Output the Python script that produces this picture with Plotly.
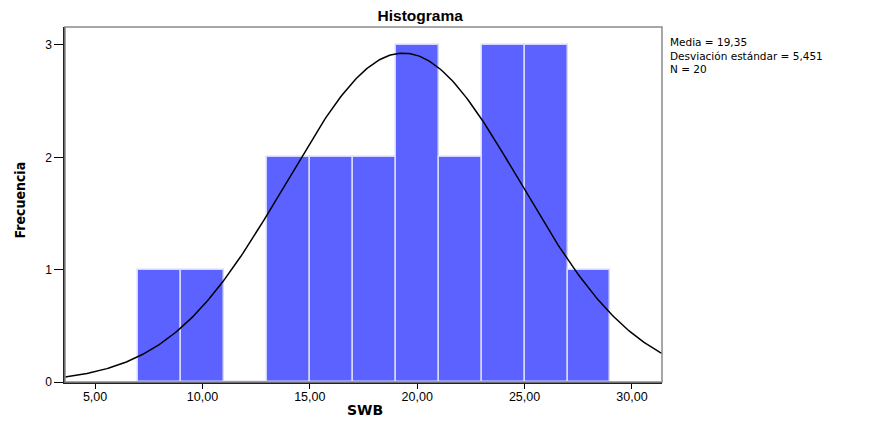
import numpy as np
import plotly.graph_objects as go

# histogram bins (centres) and counts
bin_centers = [8, 10, 12, 14, 16, 18, 20, 22, 24, 26, 28]
counts = [1, 1, 0, 2, 2, 2, 3, 2, 3, 3, 1]
bin_width = 2

# summary stats shown on the chart
mean = 19.35
std = 5.451
n = 20
stats_lines = ["Media = 19,35", "Desviación estándar = 5,451", "N = 20"]

x_ticks = [5, 10, 15, 20, 25, 30]
x_tick_labels = ["5,00", "10,00", "15,00", "20,00", "25,00", "30,00"]
y_ticks = [0, 1, 2, 3]

x_range = [3.6, 31.4]

# normal curve scaled to the histogram
xs = np.linspace(x_range[0], x_range[1], 300)
ys = n * bin_width / (std * np.sqrt(2 * np.pi)) * np.exp(-0.5 * ((xs - mean) / std) ** 2)

fig = go.Figure()
fig.add_trace(go.Bar(
    x=bin_centers, y=counts, width=bin_width,
    marker=dict(color="#5c62ff", line=dict(color="#d6d8ff", width=1.5)),
    hoverinfo="x+y",
))
fig.add_trace(go.Scatter(
    x=xs, y=ys, mode="lines",
    line=dict(color="black", width=1.5),
    hoverinfo="skip",
))

# grey frame around the plot area
fig.add_shape(type="rect", xref="paper", yref="paper", x0=0, y0=0, x1=1, y1=1,
              line=dict(color="#8a8a8a", width=1.5), layer="above")

# stats box
fig.add_annotation(
    x=1.01, y=0.98, xref="paper", yref="paper",
    xanchor="left", yanchor="top", showarrow=False, align="left",
    text="<br>".join(stats_lines),
    font=dict(family="DejaVu Sans, Liberation Sans", size=10.5, color="black"),
)

# axis titles as annotations so they sit where SPSS puts them
fig.add_annotation(
    x=0.5025, y=-0.079, xref="paper", yref="paper", xanchor="center", yanchor="middle",
    showarrow=False, text="<b>SWB</b>", borderpad=0,
    font=dict(family="DejaVu Sans, Liberation Sans", size=14, color="black"),
)
fig.add_annotation(
    x=-0.076, y=0.513, xref="paper", yref="paper", xanchor="center", yanchor="middle",
    showarrow=False, textangle=-90, text="<b>Frecuencia</b>",
    font=dict(family="DejaVu Sans Condensed, Liberation Sans", size=14, color="black"),
)

fig.update_layout(
    title=dict(text="<b>Histograma</b>", x=0.483, xanchor="center", y=0.962, yanchor="middle",
               font=dict(family="Liberation Sans, Arial", size=15.5, color="black")),
    width=870, height=421,
    margin=dict(l=65, r=208, t=27, b=39),
    plot_bgcolor="white", paper_bgcolor="white",
    showlegend=False,
    bargap=0,
)
fig.update_xaxes(
    range=x_range, tickvals=x_ticks, ticktext=x_tick_labels, automargin=False,
    ticks="outside", ticklen=5, tickcolor="black", showgrid=False, zeroline=False,
    showline=True, linecolor="#222", linewidth=1.5, ticklabelstandoff=-3,
    tickfont=dict(family="Liberation Sans, Arial", size=12.5, color="black"),
)
fig.update_yaxes(
    range=[0, 3.16], tickvals=y_ticks, automargin=False,
    ticks="outside", ticklen=9, tickcolor="black", showgrid=False, zeroline=False,
    showline=True, linecolor="#222", linewidth=1.5,
    tickfont=dict(family="Liberation Sans, Arial", size=12, color="black"),
)

# the page's default body margin would shift the figure
fig.write_html("out.html", config={"displayModeBar": False},
               post_script="document.body.style.margin='0';")
